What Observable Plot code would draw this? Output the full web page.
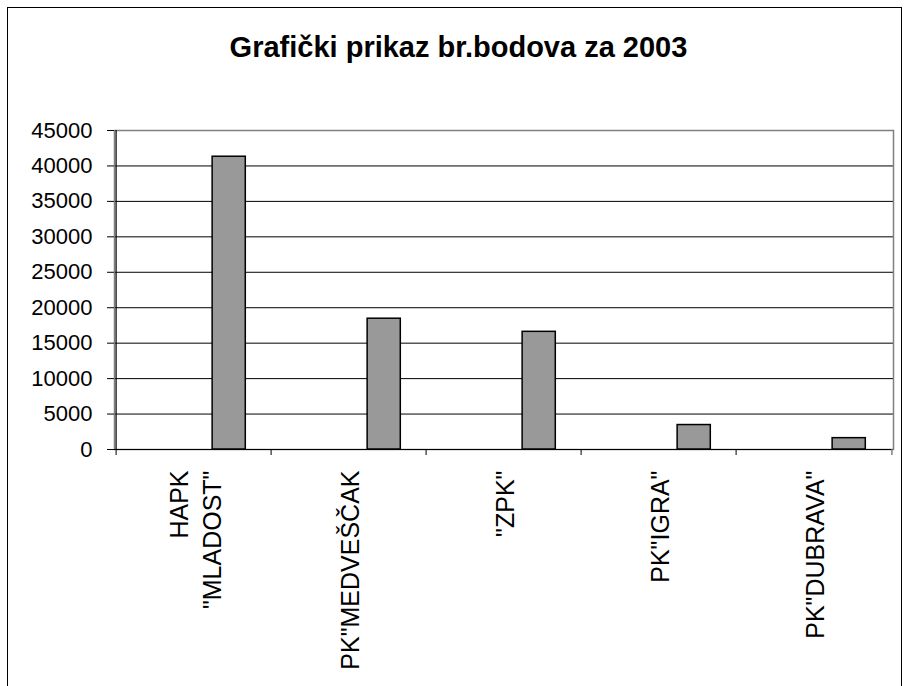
<!DOCTYPE html>
<html><head><meta charset="utf-8">
<script src="https://cdn.jsdelivr.net/npm/d3@7"></script>
<script src="https://cdn.jsdelivr.net/npm/@observablehq/plot@0.6"></script>
<style>
body{margin:0;background:#fff;overflow:hidden;font-family:"Liberation Sans",Arial,sans-serif}
#frame{position:absolute;left:7px;top:7px;width:895px;height:720px;border:1.5px solid #000;box-sizing:border-box;pointer-events:none}
#chart{position:absolute;left:0;top:0}
#title{position:absolute;left:0;top:33px;width:917px;text-align:center;font:bold 29px/29px "Liberation Sans",Arial,sans-serif;color:#000}
</style></head><body>
<div id="chart"></div>
<div id="title"></div>
<div id="frame"></div>
<script>
const title = "Grafički prikaz br.bodova za 2003";
const categories = ["HAPK\n\"MLADOST\"", "PK\"MEDVEŠČAK", "\"ZPK\"", "PK\"IGRA\"", "PK\"DUBRAVA\""];
const values = [41300, 18450, 16600, 3450, 1600];
const yTicks = [0, 5000, 10000, 15000, 20000, 25000, 30000, 35000, 40000, 45000];

document.getElementById("title").textContent = title;

const data = categories.map((c, i) => ({cat: c, value: values[i]}));
const W = 905, H = 686, mL = 114, mR = 12, mT = 130, mB = 237;
const bw = (W - mL - mR) / categories.length;
const plotH = H - mT - mB;

const chart = Plot.plot({
  width: W, height: H,
  marginLeft: mL, marginRight: mR, marginTop: mT, marginBottom: mB,
  style: {fontFamily: '"Liberation Sans", Arial, sans-serif', background: "transparent", color: "#000"},
  x: {type: "band", domain: categories, padding: 0, axis: null},
  y: {domain: [0, 45000], axis: null},
  marks: [
    Plot.gridY(yTicks.filter(d => d < 45000), {stroke: "#000", strokeOpacity: 1, strokeWidth: 1}),
    Plot.frame({stroke: "#808080", strokeWidth: 1.5}),
    Plot.barY(data, {x: "cat", y: "value", fill: "#999999", stroke: "#000", strokeWidth: 1.5,
      insetLeft: bw * 0.617, insetRight: bw * 0.165}),
    Plot.ruleY([0], {stroke: "#000", strokeWidth: 1.2}),
    Plot.ruleX(categories, {x: d => d, dx: -bw / 2, insetTop: plotH, insetBottom: -6, stroke: "#000", strokeWidth: 1}),
    Plot.ruleX(categories.slice(-1), {x: d => d, dx: bw / 2, insetTop: plotH, insetBottom: -6, stroke: "#808080", strokeWidth: 1.5}),
    Plot.ruleX(categories.slice(0, 1), {x: d => d, dx: -bw / 2, stroke: "#000", strokeWidth: 1.2}),
    Plot.axisY(yTicks, {label: null, tickSize: 7, tickPadding: 15, fontSize: 22, tickFormat: d => String(d), stroke: "#000", strokeOpacity: 1}),
    Plot.text(categories, {x: d => d, text: d => d, frameAnchor: "bottom", rotate: -90, textAnchor: "end",
      lineAnchor: "middle", lineHeight: 1.3, dy: 21, fontSize: 25, fill: "#000"})
  ]
});
document.getElementById("chart").appendChild(chart);
</script>
</body></html>
